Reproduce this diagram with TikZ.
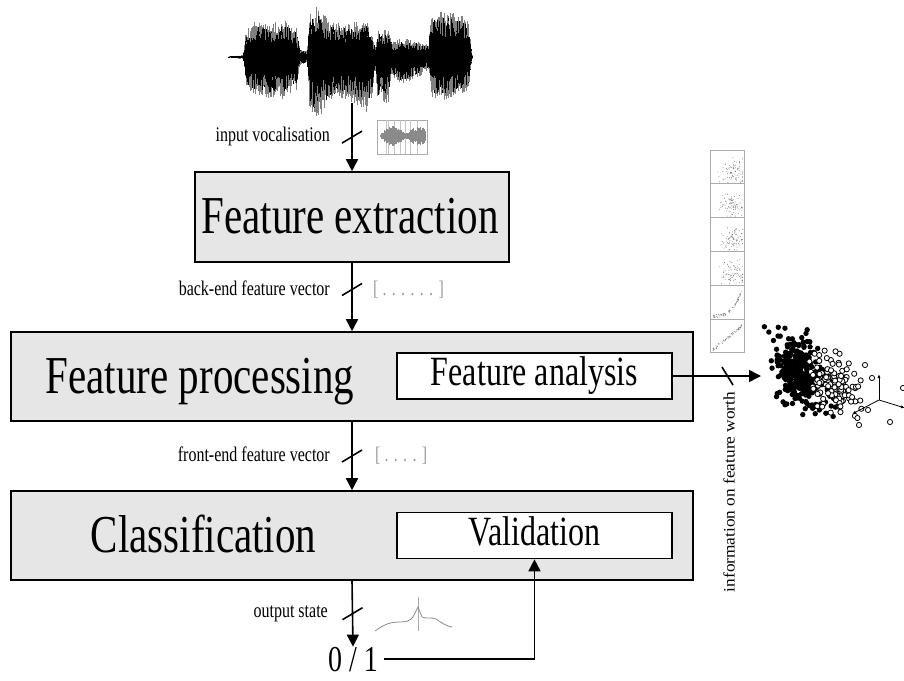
\documentclass[tikz,border=0pt]{standalone}
\usepackage{graphicx}
\usepackage{fontspec}
\setmainfont{Liberation Serif}
\usetikzlibrary{arrows.meta,calc}
\definecolor{stagefill}{HTML}{E6E6E6}
\definecolor{thumbline}{HTML}{ABABAB}
\definecolor{thumbwave}{HTML}{8A8A8A}
\definecolor{hintgrey}{HTML}{9A9A9A}
\definecolor{dotgrey}{HTML}{6E6E6E}
% the lettering of this chart is set slightly condensed (taller than wide)
\newcommand\tallset[1]{\scalebox{1}[1.3]{#1}}
\begin{document}
\begin{tikzpicture}[x=1pt,y=-1pt,
  stage/.style={draw, line width=1.6pt, fill=stagefill, inner sep=0pt},
  subtask/.style={draw, line width=1.6pt, fill=white, minimum width=275pt,
    minimum height=46pt, inner sep=0pt, text height=27pt, text depth=8pt,
    font=\fontsize{32}{36}\selectfont},
  title/.style={font=\fontsize{41}{46}\selectfont, inner sep=0pt, anchor=base},
  tag/.style={font=\fontsize{16}{18}\selectfont, inner sep=0pt, anchor=base east},
  hint/.style={font=\fontsize{16}{18}\selectfont, text=hintgrey, inner sep=0pt, anchor=base west},
  flow/.style={line width=1.6pt, -{Triangle[length=12pt,width=12pt]}},
  busmark/.style={line width=1.6pt},
  wavepen/.style={line width=0.6pt},
  panel/.style={draw=thumbline, line width=0.8pt},
  axis/.style={line width=0.8pt, -{Latex[length=4pt,width=3pt]}},
]
\useasboundingbox (0,0) rectangle (904,680);

% ---------- input waveform ----------
\pgfmathsetseed{7}
\foreach \xa/\ua/\da/\xb/\ub/\db in {
  228/0.5/0.5/243/2/2, 243/2/2/246/26/30, 246/26/30/255/34/36,
  255/34/36/270/32/40, 270/32/40/285/36/40, 285/36/40/296/28/32,
  296/28/32/300/8/8, 300/8/8/307/6/6, 307/6/6/310/45/55,
  310/45/55/318/48/58, 318/48/58/330/34/44, 330/34/44/345/32/40,
  345/32/40/358/34/46, 358/34/46/366/36/54, 366/36/54/372/22/40,
  372/22/40/375/10/12, 375/10/12/378/26/42, 378/26/42/388/26/44,
  388/26/44/392/14/18, 392/14/18/400/18/26, 400/18/26/415/16/22,
  415/16/22/428/12/12, 428/12/12/432/44/40, 432/44/40/445/44/42,
  445/44/42/458/42/38, 458/42/38/468/36/32, 468/36/32/472/2/2} {
  \pgfmathsetmacro\xn{\xa+0.5}
  \foreach \x in {\xa,\xn,...,\xb} {
    \pgfmathsetmacro\wt{(\x-\xa)/(\xb-\xa)}
    \pgfmathsetmacro\wu{\ua+(\ub-\ua)*\wt}
    \pgfmathsetmacro\wdn{\da+(\db-\da)*\wt}
    \pgfmathsetmacro\gu{\wu*(0.55+0.5*rnd)}
    \pgfmathsetmacro\gd{\wdn*(0.55+0.5*rnd)}
    \pgfmathsetmacro\bu{\wu*(0.45+0.45*rnd)}
    \pgfmathsetmacro\bd{\wdn*(0.45+0.45*rnd)}
    \draw[wavepen, gray] (\x,57-\gu) -- (\x,57+\gd);
    \draw[wavepen, black] (\x,57-\bu) -- (\x,57+\bd);
  }
}
\coordinate (wavefoot) at (352,103);

% ---------- processing stages ----------
\node[stage, minimum width=314pt, minimum height=90pt] (fe) at (352,217) {};
\node[title] (fe-t) at (350,233) {\tallset{Feature extraction}};

\node[stage, minimum width=682pt, minimum height=89pt] (fp) at (352,376.5) {};
\node[title] (fp-t) at (200,393) {\tallset{Feature processing}};
\node[subtask] (fa) at (534.5,376) {\tallset{Feature analysis}};

\node[stage, minimum width=682pt, minimum height=89pt] (cl) at (352,535.5) {};
\node[title] (cl-t) at (203.5,552) {\tallset{Classification}};
\node[subtask] (va) at (534.5,535.5) {\tallset{Validation}};

\node[font=\fontsize{28}{32}\selectfont, inner sep=0pt, anchor=base] (out) at (353,671) {\tallset{0 / 1}};

% ---------- flow between stages ----------
\draw[flow] (wavefoot) -- coordinate[pos=0.5] (m1) (fe.north);
\draw[busmark] ($(m1)+(-10,6)$) -- ($(m1)+(10,-6)$);
\node[tag] (l1) at (330,141) {\tallset{input vocalisation}};

\draw[flow] (fe.south) -- coordinate[pos=0.39] (m2) (fp.north);
\draw[busmark] ($(m2)+(-10,6)$) -- ($(m2)+(10,-6)$);
\node[tag] (l2) at (330,295) {\tallset{back-end feature vector}};
\node[hint] (h2) at (373,295) {\tallset{[ . . . . . . ]}};

\draw[flow] (fp.south) -- coordinate[pos=0.5] (m3) (cl.north);
\draw[busmark] ($(m3)+(-10,6)$) -- ($(m3)+(10,-6)$);
\node[tag] (l3) at (330,461) {\tallset{front-end feature vector}};
\node[hint] (h3) at (375,461) {\tallset{[ . . . . ]}};

\draw[flow] (cl.south) -- coordinate[pos=0.5] (m4) (out.north);
\draw[busmark] ($(m4)+(-10,6)$) -- ($(m4)+(10,-6)$);
\node[tag] (l4) at (328,617) {\tallset{output state}};

\draw[flow] ([xshift=6pt]out.east) -| (va.south);

\coordinate (cloud) at (761,376);
\draw[flow] (fa.east) -- coordinate[pos=0.62] (m5) (cloud);
\draw[busmark] ($(m5)+(-5.5,-9)$) -- ($(m5)+(5.5,9)$);
\node[rotate=90, font=\fontsize{16}{18}\selectfont, inner sep=0pt] (worth) at (729,492)
  {\scalebox{1.08}[1]{information on feature worth}};

% ---------- small waveform thumbnail ----------
\draw[thumbline, line width=0.8pt] (377,120) rectangle (427,154);
\foreach \x in {386,388,394,400,405,410,417} \draw[thumbline!70, line width=0.6pt] (\x,120) -- (\x,154);
\pgfmathsetseed{3}
\foreach \x in {380,380.5,...,425} {
  \pgfmathsetmacro\wa{(2+8*abs(sin(7*(\x-380))))*(0.4+0.6*rnd)}
  \draw[thumbwave, line width=0.5pt] (\x,136-\wa) -- (\x,136+\wa);
}

% ---------- output score thumbnail ----------
\draw[thumbline, line width=0.8pt] (418,597) -- (418,631);
\draw[thumbwave, line width=0.8pt] (375,631) .. controls (385,624) and (390,622) .. (400,622)
  .. controls (406,622) and (410,621) .. (413,617) -- (418,607) -- (422,617)
  .. controls (426,619) and (432,617) .. (436,619) .. controls (442,623) and (446,626) .. (452,627);

% ---------- column of pairwise scatter plots ----------
\pgfmathsetseed{11}
\foreach \p in {0,...,5} {
  \pgfmathsetmacro\ptop{150+\p*33.8}
  \draw[panel] (710,\ptop) rectangle ++(34,33.8);
  \ifnum\p<4
    \foreach \k in {1,...,80} {
      \pgfmathsetmacro\px{710+max(1.5,min(32.5,34*(0.66+0.17*(rand+rand+rand))))}
      \pgfmathsetmacro\py{\ptop+max(1.5,min(32.3,33.8*(0.66+0.17*(rand+rand+rand))))}
      \fill[dotgrey] (\px,\py) circle (0.45);
    }
  \else
    \foreach \k in {1,...,65} {
      \pgfmathsetmacro\tt{rnd}
      \pgfmathsetmacro\px{713+29*\tt}
      \pgfmathsetmacro\py{\ptop+33.8-3-(\p==4 ? 26*\tt*\tt*\tt : 24*\tt)+1.5*rand}
      \fill[dotgrey] (\px,\py) circle (0.45);
    }
  \fi
}

% ---------- feature space scatter ----------
\pgfmathsetseed{5}
\foreach \k in {1,...,330} {
  \pgfmathsetmacro\by{374+18*(rand+rand+rand)}
  \pgfmathsetmacro\bx{799+12*(rand+rand+rand)+0.3*(\by-374)}
  \fill[black] (\bx,\by) circle (2.7);
}
\foreach \k in {1,...,120} {
  \pgfmathsetmacro\hy{387+14*(rand+rand+rand)}
  \pgfmathsetmacro\hx{836+12*(rand+rand+rand)+0.25*(\hy-387)}
  \draw[line width=0.8pt, fill=white] (\hx,\hy) circle (2.6);
}
\foreach \hx/\hy in {865/365, 872/378, 890/422, 859/425, 868/410, 903/388}
  \draw[line width=0.8pt, fill=white] (\hx,\hy) circle (2.6);
\coordinate (ax0) at (879,400);
\draw[axis] (ax0) -- (879,374);
\draw[axis] (ax0) -- (905,408);
\draw[axis] (ax0) -- (852,414);
\end{tikzpicture}
\end{document}
